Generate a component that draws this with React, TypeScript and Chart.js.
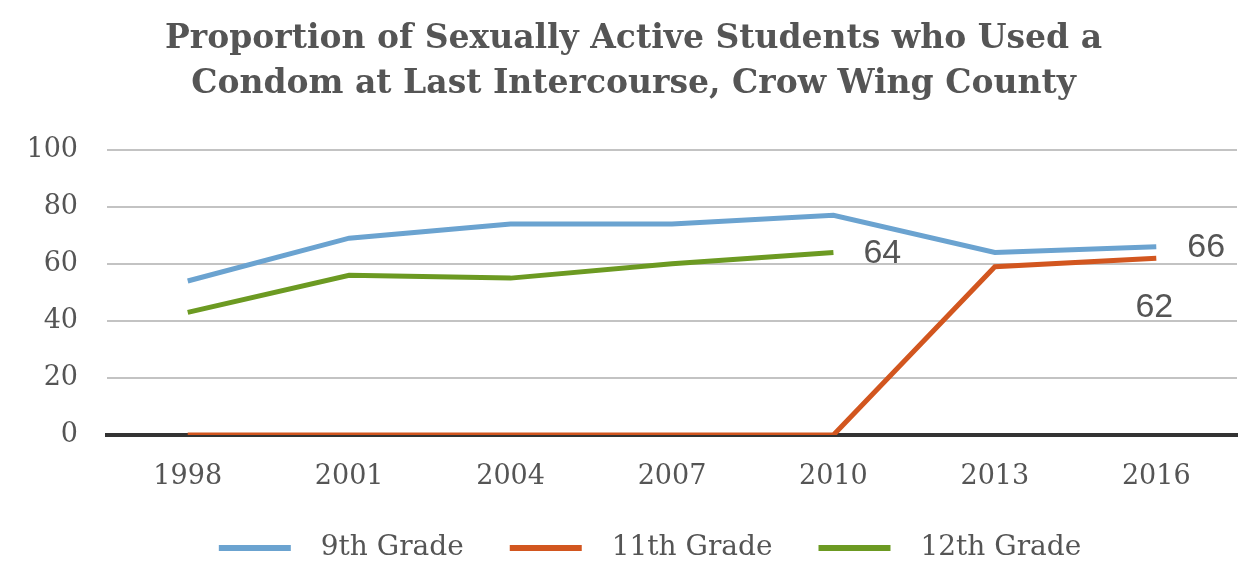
import React, { useEffect, useRef } from "react";
import { Chart, registerables } from "chart.js";

Chart.register(...registerables);

const years = ["1998", "2001", "2004", "2007", "2010", "2013", "2016"];
const grade9 = [54, 69, 74, 74, 77, 64, 66];
const grade11 = [0, 0, 0, 0, 0, 59, 62];
const grade12 = [43, 56, 55, 60, 64, null, null];
const seriesNames = ["9th Grade", "11th Grade", "12th Grade"];
const seriesColors = ["#6ba3d0", "#d2561f", "#6c9a22"];
const titleLines = [
  "Proportion of Sexually Active Students who Used a",
  "Condom at Last Intercourse, Crow Wing County",
];

const TEXT = "#555555";

const endLabels = {
  id: "endLabels",
  afterDatasetsDraw(chart: any) {
    const ctx = chart.ctx;
    const items = [
      { ds: 2, idx: 4, dx: 30, dy: 1, align: "left" },
      { ds: 0, idx: 6, dx: 31, dy: 1, align: "left" },
      { ds: 1, idx: 6, dx: -2, dy: 49, align: "center" },
    ];
    ctx.save();
    ctx.font = "34px 'Liberation Sans', Arial, sans-serif";
    ctx.fillStyle = TEXT;
    ctx.textBaseline = "middle";
    for (const it of items) {
      const meta = chart.getDatasetMeta(it.ds);
      const pt = meta.data[it.idx];
      const v = chart.data.datasets[it.ds].data[it.idx];
      if (!pt || v == null) continue;
      ctx.textAlign = it.align;
      ctx.fillText(String(v), pt.x + it.dx, pt.y + it.dy);
    }
    ctx.restore();
  },
};

function makeSwatch(color: string) {
  const c = document.createElement("canvas");
  c.width = 121;
  c.height = 6;
  const g = c.getContext("2d")!;
  g.fillStyle = color;
  g.fillRect(33, 0, 72, 6);
  return c;
}

export default function App() {
  const ref = useRef<HTMLCanvasElement>(null);
  useEffect(() => {
    document.body.style.margin = "0";
    const data = [grade9, grade11, grade12];
    const swatches = seriesColors.map(makeSwatch);
    const chart = new Chart(ref.current!, {
      type: "line",
      data: {
        labels: years,
        datasets: seriesNames.map((n, i) => ({
          label: n,
          data: data[i],
          borderColor: seriesColors[i],
          backgroundColor: seriesColors[i],
          borderWidth: 5,
          pointRadius: 0,
          pointHoverRadius: 0,
          tension: 0,
          spanGaps: false,
        })),
      },
      options: {
        responsive: false,
        animation: false,
        layout: { padding: { left: 30, right: 7, top: 0, bottom: 10 } },
        plugins: {
          tooltip: { enabled: false },
          title: {
            display: true,
            text: titleLines,
            color: TEXT,
            font: { family: "'DejaVu Serif', serif", size: 33, weight: "bold", lineHeight: 1.36 },
            padding: { top: 17, bottom: 43 },
          },
          legend: {
            position: "bottom",
            labels: {
              color: TEXT,
              font: { family: "'DejaVu Serif', serif", size: 28 },
              usePointStyle: true,
              pointStyleWidth: 121,
              boxHeight: 6,
              padding: 13,
              generateLabels: (c: any) =>
                c.data.datasets.map((d: any, i: number) => ({
                  text: d.label,
                  fillStyle: d.borderColor,
                  strokeStyle: d.borderColor,
                  lineWidth: 0,
                  pointStyle: swatches[i],
                  fontColor: TEXT,
                  datasetIndex: i,
                  hidden: false,
                })),
            },
          },
        },
        scales: {
          x: {
            offset: true,
            grid: { display: false, drawTicks: false },
            border: { display: true, color: "#333333", width: 4 },
            ticks: {
              color: TEXT,
              font: { family: "'DejaVu Serif', serif", size: 27 },
              padding: 26,
            },
            afterFit: (s: any) => {
              s.height = 86;
            },
          },
          y: {
            min: 0,
            max: 100,
            grid: {
              color: (c: any) => (c.tick && c.tick.value === 0 ? "rgba(0,0,0,0)" : "#c3c3c3"),
              lineWidth: 2,
              drawTicks: false,
            },
            border: { display: false },
            ticks: {
              stepSize: 20,
              color: TEXT,
              font: { family: "'DejaVu Serif', serif", size: 27 },
              padding: 29,
            },
            afterFit: (s: any) => {
              s.width = 77;
            },
          },
        },
      },
      plugins: [endLabels],
    });
    return () => chart.destroy();
  }, []);
  return (
    <div style={{ width: 1244, height: 582 }}>
      <canvas ref={ref} width={1244} height={582} style={{ display: "block" }} />
    </div>
  );
}
